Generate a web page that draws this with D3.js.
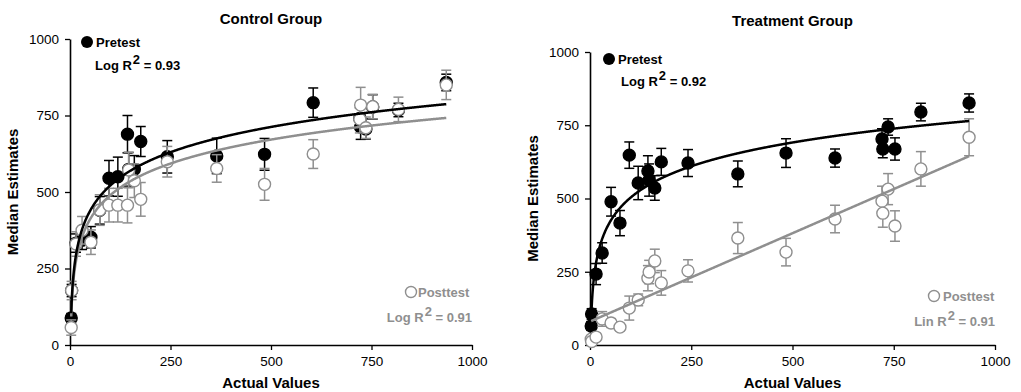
<!DOCTYPE html>
<html><head><meta charset="utf-8">
<script src="https://cdn.jsdelivr.net/npm/d3@7"></script>
<style>
body{margin:0;background:#fff;}
text{font-family:"Liberation Sans",Arial,sans-serif;}
.tick text{font-family:"Liberation Sans Narrow","Liberation Sans",Arial,sans-serif;font-size:13.5px;}
</style></head>
<body><svg id="c" width="1021" height="392"></svg>
<script>
// Actual values (stimuli), shared by both groups
const actualValues = [3, 4, 15, 30, 52, 74, 97, 119, 143, 146, 160, 176, 242, 365, 484, 605, 721, 723, 736, 753, 817, 936];

// Control group
const controlPre      = [88, 178, 333, 342, 352, 440, 545, 550, 689, 574, 574, 665, 615, 618, 623, 792, 740, 712, 706, 778, 768, 858];
const controlPreErr   = [15, 20, 30, 30, 35, 45, 58, 64, 61, 55, 45, 49, 53, 58, 52, 48, 35, 40, 33, 40, 22, 27];
const controlPost     = [57, 178, 330, 375, 336, 441, 457, 457, 457, 572, 537, 476, 599, 577, 525, 624, 738, 784, 710, 779, 770, 850];
const controlPostErr  = [25, 30, 40, 45, 40, 50, 55, 55, 58, 58, 55, 55, 50, 45, 52, 47, 45, 58, 35, 40, 40, 48];

// Treatment group
const treatPre        = [65, 106, 242, 314, 489, 416, 648, 553, 594, 563, 536, 625, 621, 584, 655, 638, 703, 669, 744, 669, 795, 826];
const treatPreErr     = [15, 18, 36, 35, 49, 43, 45, 57, 52, 55, 42, 46, 46, 44, 49, 31, 35, 30, 28, 38, 30, 31];
const treatPost       = [20, 12, 27, 89, 75, 61, 126, 154, 228, 249, 287, 212, 253, 365, 317, 430, 491, 450, 532, 406, 601, 709];
const treatPostErr    = [10, 8, 12, 25, 15, 12, 41, 20, 43, 40, 40, 42, 38, 53, 47, 47, 51, 48, 53, 52, 59, 63];

// Trendline coefficients: log => a*ln(x)+b ; lin => a*x+b
const controlPreFit  = {type:"log", a:119, b:-27};
const controlPostFit = {type:"log", a:113, b:-31};
const treatPreFit    = {type:"log", a:117, b:-36};
const treatPostFit   = {type:"lin", a:0.603, b:80};

const tickValues = [0, 250, 500, 750, 1000];
const titles = ["Control Group", "Treatment Group"];
const legendPre = ["Log R", "Log R"], legendPreR2 = ["0.93", "0.92"];
const legendPost = ["Log R", "Lin R"], legendPostR2 = ["0.91", "0.91"];

const GREY = "#8f8f8f";
const svg = d3.select("#c");

const panels = [
  {x0:70, x1:472, y0:345, y1:39, pre:controlPre, preErr:controlPreErr, post:controlPost, postErr:controlPostErr,
   preFit:controlPreFit, postFit:controlPostFit, title:titles[0], titleY:24, yTitleX:18,
   legPre:{cx:87, cy:42, tx:96, ty:47, rx:95, ry:70, label:legendPre[0], r2:legendPreR2[0]},
   legPost:{cx:411, cy:292, tx:418, ty:297, rx:472, ry:322, label:legendPost[0], r2:legendPostR2[0]}},
  {x0:590, x1:995, y0:345, y1:52, pre:treatPre, preErr:treatPreErr, post:treatPost, postErr:treatPostErr,
   preFit:treatPreFit, postFit:treatPostFit, title:titles[1], titleY:26, yTitleX:538,
   legPre:{cx:609, cy:59, tx:618, ty:64, rx:621, ry:86, label:legendPre[1], r2:legendPreR2[1]},
   legPost:{cx:934, cy:296, tx:943, ty:301, rx:995, ry:326, label:legendPost[1], r2:legendPostR2[1]}}
];

function fitY(f, x){ return f.type==="log" ? f.a*Math.log(x)+f.b : f.a*x+f.b; }

panels.forEach(p=>{
  const x = d3.scaleLinear().domain([0,1000]).range([p.x0,p.x1]);
  const y = d3.scaleLinear().domain([0,1000]).range([p.y0,p.y1]);
  const g = svg.append("g");
  const fmt = d3.format("d");

  // axes
  const xa = g.append("g").attr("transform",`translate(0,${p.y0})`)
    .call(d3.axisBottom(x).tickValues(tickValues).tickFormat(fmt).tickSize(5).tickPadding(4).tickSizeOuter(0));
  const ya = g.append("g").attr("transform",`translate(${p.x0},0)`)
    .call(d3.axisLeft(y).tickValues(tickValues).tickFormat(fmt).tickSize(5).tickPadding(6).tickSizeOuter(0));
  [xa,ya].forEach(a=>{
    a.select(".domain").attr("stroke","#000").attr("stroke-width",1.6);
    a.selectAll(".tick line").attr("stroke","#000").attr("stroke-width",1.3);
    a.selectAll(".tick text").attr("fill","#000");
  });
  xa.selectAll(".tick text").attr("dy","0.9em");

  // titles
  g.append("text").attr("x",(p.x0+p.x1)/2).attr("y",p.titleY).attr("text-anchor","middle")
    .attr("font-weight","bold").attr("font-size",15).text(p.title);
  g.append("text").attr("x",(p.x0+p.x1)/2).attr("y",388).attr("text-anchor","middle")
    .attr("font-weight","bold").attr("font-size",15).text("Actual Values");
  g.append("text").attr("transform",`translate(${p.yTitleX},${(p.y0+p.y1)/2}) rotate(-90)`)
    .attr("text-anchor","middle").attr("font-weight","bold").attr("font-size",15).text("Median Estimates");

  const series = [
    {vals:p.pre, err:p.preErr, color:"#000", fill:"#000"},
    {vals:p.post, err:p.postErr, color:GREY, fill:"#fff"}
  ];
  series.forEach(s=>{
    const data = actualValues.map((v,i)=>({x:v, y:s.vals[i], e:s.err[i]}));
    const eb = g.append("g").attr("stroke",s.color).attr("stroke-width",1.5);
    eb.selectAll(".v").data(data).join("line")
      .attr("x1",d=>x(d.x)).attr("x2",d=>x(d.x)).attr("y1",d=>y(d.y-d.e)).attr("y2",d=>y(d.y+d.e));
    eb.selectAll(".t").data(data).join("line")
      .attr("x1",d=>x(d.x)-5).attr("x2",d=>x(d.x)+5).attr("y1",d=>y(d.y+d.e)).attr("y2",d=>y(d.y+d.e));
    eb.selectAll(".b").data(data).join("line")
      .attr("x1",d=>x(d.x)-5).attr("x2",d=>x(d.x)+5).attr("y1",d=>y(d.y-d.e)).attr("y2",d=>y(d.y-d.e));
    g.append("g").selectAll("circle").data(data).join("circle")
      .attr("cx",d=>x(d.x)).attr("cy",d=>y(d.y)).attr("r",6)
      .attr("fill",s.fill).attr("stroke",s.color).attr("stroke-width",1.4);
  });

  // trendlines
  const xs = d3.range(actualValues[0], actualValues[actualValues.length-1]+0.01, 1);
  const line = d3.line().x(d=>x(d[0])).y(d=>y(d[1])).curve(d3.curveLinear);
  g.append("path").datum(xs.map(v=>[v,fitY(p.postFit,v)]).filter(d=>d[1]>=0))
    .attr("d",line).attr("fill","none").attr("stroke",GREY).attr("stroke-width",2.5);
  g.append("path").datum(xs.map(v=>[v,fitY(p.preFit,v)]).filter(d=>d[1]>=0))
    .attr("d",line).attr("fill","none").attr("stroke","#000").attr("stroke-width",2.5);

  // legends
  const L = p.legPre;
  g.append("circle").attr("cx",L.cx).attr("cy",L.cy).attr("r",6).attr("fill","#000");
  g.append("text").attr("x",L.tx).attr("y",L.ty).attr("font-weight","bold").attr("font-size",13).text("Pretest");
  const t1 = g.append("text").attr("x",L.rx).attr("y",L.ry).attr("font-weight","bold").attr("font-size",13);
  t1.append("tspan").text(L.label);
  t1.append("tspan").attr("dy",-6).attr("dx",1).attr("font-size",13).text("2");
  t1.append("tspan").attr("dy",6).text(" = "+L.r2);

  const P = p.legPost;
  g.append("circle").attr("cx",P.cx).attr("cy",P.cy).attr("r",5.5).attr("fill","#fff").attr("stroke",GREY).attr("stroke-width",1.4);
  g.append("text").attr("x",P.tx).attr("y",P.ty).attr("font-weight","bold").attr("font-size",13).attr("fill",GREY).text("Posttest");
  const t2 = g.append("text").attr("x",P.rx).attr("y",P.ry).attr("text-anchor","end").attr("font-weight","bold").attr("font-size",13).attr("fill",GREY);
  t2.append("tspan").text(P.label);
  t2.append("tspan").attr("dy",-6).attr("dx",1).attr("font-size",13).text("2");
  t2.append("tspan").attr("dy",6).text(" = "+P.r2);
});
</script></body></html>
